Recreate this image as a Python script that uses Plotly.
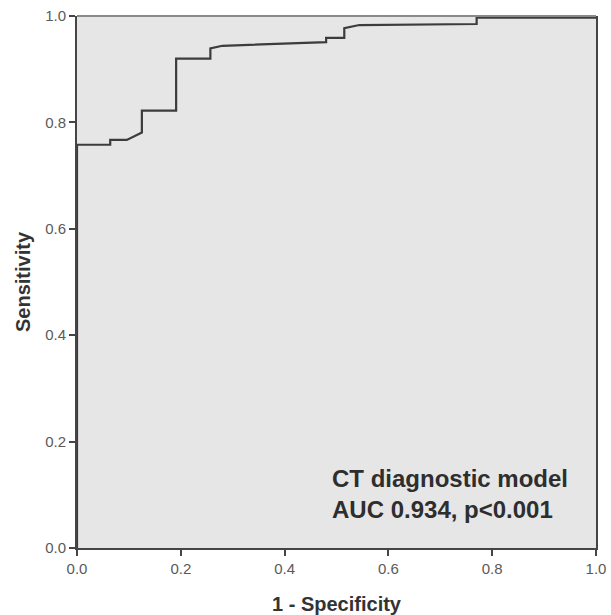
import plotly.graph_objects as go

# ROC curve points (1 - specificity, sensitivity)
fpr = [0.0, 0.0, 0.064, 0.064, 0.096, 0.125, 0.125, 0.191, 0.191, 0.257, 0.257, 0.28,
       0.48, 0.48, 0.515, 0.515, 0.544, 0.77, 0.77, 1.0]
tpr = [0.0, 0.758, 0.758, 0.767, 0.767, 0.781, 0.822, 0.822, 0.920, 0.920, 0.939, 0.944,
       0.951, 0.959, 0.959, 0.977, 0.983, 0.985, 0.997, 0.997]

tick_vals = [0.0, 0.2, 0.4, 0.6, 0.8, 1.0]
tick_text = ["0.0", "0.2", "0.4", "0.6", "0.8", "1.0"]

model_name = "CT diagnostic model"
auc_text = "AUC 0.934, p<0.001"

FONT = "Liberation Sans, Arial, sans-serif"

fig = go.Figure()
fig.add_trace(go.Scatter(x=fpr, y=tpr, mode="lines",
                         line=dict(color="#3c3c3c", width=2.2), showlegend=False,
                         hoverinfo="skip"))

axis_common = dict(range=[0, 1], tickvals=tick_vals, ticktext=tick_text,
                   showgrid=False, zeroline=False, showline=True,
                   linecolor="#454545", linewidth=2, ticks="outside", ticklen=6,
                   tickwidth=2, tickcolor="#454545", automargin=False,
                   tickfont=dict(family=FONT, size=15, color="#5a5a5a"))

fig.update_layout(
    width=611, height=615,
    margin=dict(l=77, r=15, t=16, b=67),
    paper_bgcolor="white",
    plot_bgcolor="#e6e6e6",
    xaxis=dict(**axis_common, mirror=False,
               title=dict(text="<b>1 - Specificity</b>", standoff=22,
                          font=dict(family=FONT, size=20, color="#333333"))),
    yaxis=dict(**axis_common, mirror=True,
               title=dict(text="<b>Sensitivity</b>", standoff=9,
                          font=dict(family=FONT, size=20, color="#333333"))),
    shapes=[dict(type="line", xref="paper", yref="paper", x0=0, x1=1, y0=1, y1=1,
                 line=dict(color="#8a8a8a", width=2))],
    annotations=[dict(x=0.487, y=0.102, xref="x", yref="y", xanchor="left", yanchor="middle",
                      align="left", showarrow=False,
                      text="<b>" + model_name + "<br>" + auc_text + "</b>",
                      font=dict(family=FONT, size=24, color="#2e2e2e"))],
)

fig.write_html("out.html", config={"displayModeBar": False},
               post_script="document.body.style.margin='0';document.body.style.padding='0';")
